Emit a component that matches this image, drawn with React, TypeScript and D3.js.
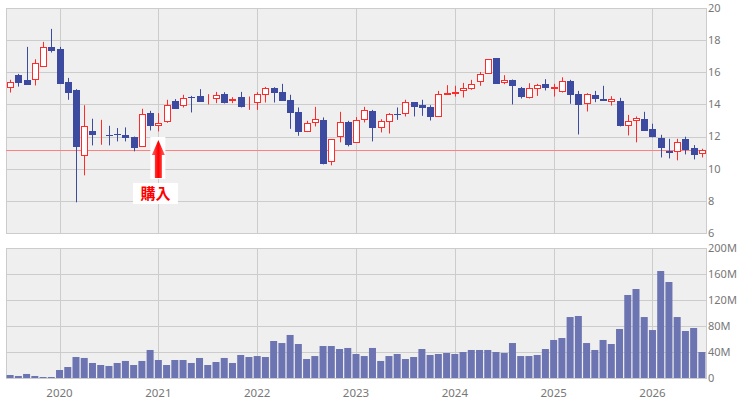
import * as d3 from "d3";

// monthly bars, 2019-07 .. 2026-07
const months: string[] = [];
for (let k = 0; k < 85; k++) {
  const y = 2019 + Math.floor((6 + k) / 12);
  const m = ((6 + k) % 12) + 1;
  months.push(`${y}-${String(m).padStart(2, "0")}`);
}

const open = [
  15.07, 15.84, 15.49, 15.57, 16.42, 17.56, 17.45, 15.4, 14.87, 10.85, 12.36, 12.15, 12.12, 12.17, 12.11, 11.99,
  11.43, 13.48, 12.69, 12.96, 14.22, 13.95, 14.47, 14.51, 14.33, 14.43, 14.64, 14.28, 14.45, 14.14, 14.18, 14.68,
  15.01, 14.78, 14.29, 13.54, 12.34, 12.9, 13.04, 10.48, 12.01, 12.92, 11.66, 13.08, 13.6, 12.57, 13.0, 13.42,
  13.46, 14.14, 13.95, 13.85, 13.27, 14.66, 14.72, 14.89, 15.05, 15.45, 15.94, 16.89, 15.38, 15.53, 15.03, 14.49,
  15.01, 15.28, 15.05, 14.82, 15.47, 14.66, 14.08, 14.58, 14.31, 14.2, 14.22, 12.71, 13.02, 13.11, 12.48, 11.93,
  11.08, 11.1, 11.84, 11.28, 10.99,
];
const high = [
  15.53, 15.9, 17.58, 16.81, 17.89, 18.7, 17.58, 15.65, 14.95, 13.95, 13.11, 13.04, 12.67, 12.53, 12.57, 12.0,
  13.73, 13.6, 13.46, 14.29, 14.33, 14.6, 14.53, 14.95, 14.64, 14.78, 14.76, 14.45, 14.78, 14.49, 14.76, 15.09,
  15.07, 15.28, 14.6, 13.81, 12.98, 13.85, 13.19, 11.85, 13.54, 12.98, 13.21, 13.85, 13.66, 13.08, 13.46, 13.81,
  14.29, 14.15, 14.29, 13.95, 14.84, 15.2, 15.16, 15.34, 15.53, 16.02, 16.82, 16.89, 15.82, 15.55, 15.09, 15.32,
  15.28, 15.57, 15.28, 15.69, 15.53, 14.84, 14.7, 14.84, 15.16, 14.51, 14.41, 13.35, 13.25, 13.54, 12.8, 12.11,
  11.86, 11.86, 11.99, 11.47, 11.24,
];
const low = [
  14.74, 15.11, 15.22, 15.18, 16.36, 17.23, 15.32, 14.29, 7.91, 9.59, 11.45, 11.49, 11.45, 11.7, 11.7, 11.08,
  11.39, 12.38, 12.32, 12.86, 13.73, 13.81, 13.5, 14.18, 14.0, 14.08, 14.06, 14.08, 13.81, 13.66, 13.66, 14.12,
  14.12, 14.28, 12.48, 12.05, 12.28, 12.63, 10.27, 10.21, 11.64, 11.39, 11.65, 12.88, 11.7, 12.26, 12.19, 13.04,
  13.25, 13.25, 13.29, 13.0, 13.26, 14.6, 14.49, 14.43, 14.91, 15.16, 15.93, 15.3, 15.26, 14.0, 14.37, 14.37,
  14.53, 14.87, 14.49, 14.74, 14.04, 12.13, 13.56, 14.14, 14.24, 13.93, 12.63, 12.07, 11.64, 12.38, 11.95, 10.7,
  10.64, 10.52, 10.89, 10.58, 10.7,
];
const close = [
  15.38, 15.42, 15.3, 16.56, 17.56, 17.41, 15.36, 14.8, 11.39, 12.65, 12.13, 12.18, 12.07, 12.13, 11.99, 11.33,
  13.4, 12.69, 12.84, 13.95, 13.75, 14.39, 14.45, 14.22, 14.36, 14.58, 14.14, 14.31, 13.91, 14.18, 14.64, 15.01,
  14.78, 14.29, 13.56, 12.32, 12.84, 13.08, 10.37, 11.84, 12.9, 11.55, 13.02, 13.64, 12.61, 12.96, 13.4, 13.38,
  14.14, 13.93, 13.87, 13.25, 14.64, 14.7, 14.76, 15.01, 15.3, 15.9, 16.81, 15.34, 15.53, 15.18, 14.55, 15.01,
  15.2, 15.11, 15.09, 15.45, 14.68, 14.0, 14.64, 14.37, 14.27, 14.35, 12.75, 12.96, 13.17, 12.44, 12.01, 11.33,
  11.04, 11.66, 11.24, 10.89, 11.16,
];
// volume, millions
const volume = [
  4.6, 3.1, 6.2, 3.1, 1.5, 1.5, 12.3, 16.9, 32.3, 30.8, 23.1, 20.0, 18.5, 23.1, 26.2, 20.0,
  26.2, 43.1, 27.7, 20.0, 27.7, 27.7, 23.1, 30.8, 20.0, 24.6, 30.8, 23.1, 35.4, 32.3, 33.8, 32.3,
  56.9, 53.8, 66.2, 52.3, 29.2, 33.8, 49.2, 49.2, 44.6, 46.2, 36.9, 33.8, 46.2, 26.2, 33.8, 36.9,
  29.2, 32.3, 44.6, 35.4, 36.9, 38.5, 36.9, 40.0, 43.1, 43.1, 43.1, 40.0, 38.5, 53.8, 33.8, 33.8,
  35.4, 44.6, 58.5, 61.5, 93.8, 95.4, 53.8, 43.1, 58.5, 52.3, 75.4, 127.7, 136.9, 93.8, 73.8, 164.6,
  147.7, 93.8, 72.3, 76.9, 40.0,
];

const priceTicks = [6, 8, 10, 12, 14, 16, 18, 20];
const volTicks = [0, 40, 80, 120, 160, 200];
const years = ["2020", "2021", "2022", "2023", "2024", "2025", "2026"];
const buyLine = 11.16;
const buyMonth = "2021-01";
const buyLabel = "購入";

const UP = "#ff2a2a";
const DOWN = "#3c4a9f";
const VOL = "#6c74b1";
const GRID = "#cccccc";
const BG = "#efefef";
const TXT = "#777777";

export default function App() {
  const left = 6;
  const right = 706;
  const pTop = 8;
  const pBot = 233;
  const vTop = 248;
  const vBot = 378;

  const x = d3.scaleBand<string>().domain(months).range([left, right]).padding(0);
  const bw = x.bandwidth();
  const cx = (m: string) => (x(m) as number) + bw / 2;
  const y = d3.scaleLinear().domain([6, 20]).range([pBot, pTop]);
  const yv = d3.scaleLinear().domain([0, 200]).range([vBot, vTop]);

  const px = (v: number) => Math.round(v) + 0.5;
  const font = "'Noto Sans', 'DejaVu Sans', sans-serif";
  const buyX = cx(buyMonth);

  return (
    <svg
      width={740}
      height={401}
      style={{ position: "absolute", left: 0, top: 0, background: "#fff" }}
    >
      <defs>
        <linearGradient id="arrowGrad" x1="0" x2="1" y1="0" y2="0">
          <stop offset="0" stopColor="#ff6a6a" />
          <stop offset="0.5" stopColor="#ff0000" />
          <stop offset="1" stopColor="#ff6a6a" />
        </linearGradient>
      </defs>

      {/* price panel */}
      <rect x={left} y={pTop} width={right - left} height={pBot - pTop} fill={BG} />
      {priceTicks.map((t) => (
        <line key={"pg" + t} x1={left} x2={right} y1={px(y(t))} y2={px(y(t))} stroke={GRID} />
      ))}
      {years.map((yr) => (
        <line key={"px" + yr} x1={px(cx(yr + "-01"))} x2={px(cx(yr + "-01"))} y1={pTop} y2={pBot} stroke={GRID} />
      ))}
      <rect x={left + 0.5} y={pTop + 0.5} width={right - left} height={pBot - pTop} fill="none" stroke={GRID} />
      {priceTicks.map((t) => (
        <text key={"pt" + t} x={right + 2} y={y(t)} dy="0.35em" fontSize={11} fill={TXT} fontFamily={font}>
          {t}
        </text>
      ))}

      <line x1={left} x2={right} y1={px(y(buyLine))} y2={px(y(buyLine))} stroke="#ff8080" />

      {months.map((m, i) => {
        const c = px(cx(m));
        const up = close[i] >= open[i];
        const top = y(Math.max(open[i], close[i]));
        const bot = y(Math.min(open[i], close[i]));
        const h = Math.max(0, Math.round(bot) - Math.round(top));
        return (
          <g key={m}>
            <line x1={c} x2={c} y1={y(high[i])} y2={y(low[i])} stroke={up ? UP : DOWN} />
            {up ? (
              <rect x={c - 3} y={Math.round(top) + 0.5} width={6} height={h} fill="#fff" stroke={UP} />
            ) : (
              <rect x={c - 3.5} y={Math.round(top)} width={7} height={Math.max(1, h + 1)} fill={DOWN} />
            )}
          </g>
        );
      })}

      {/* buy marker */}
      <rect x={buyX - 8} y={137} width={15} height={42} fill="#fff" />
      <path
        d={`M${buyX},140 L${buyX + 6.5},155 L${buyX + 3.5},155 L${buyX + 3.5},178 L${buyX - 3.5},178 L${buyX - 3.5},155 L${buyX - 6.5},155 Z`}
        fill="url(#arrowGrad)"
      />
      <rect x={133} y={183} width={45} height={21} fill="#fff" />
      <text
        x={155.5}
        y={199}
        textAnchor="middle"
        fontSize={15}
        fontWeight="bold"
        fill="#ff0000"
        fontFamily="'Noto Sans CJK JP', sans-serif"
      >
        {buyLabel}
      </text>

      {/* volume panel */}
      <rect x={left} y={vTop} width={right - left} height={vBot - vTop} fill={BG} />
      {volTicks.map((t) => (
        <line key={"vg" + t} x1={left} x2={right} y1={px(yv(t))} y2={px(yv(t))} stroke={GRID} />
      ))}
      {years.map((yr) => (
        <line key={"vx" + yr} x1={px(cx(yr + "-01"))} x2={px(cx(yr + "-01"))} y1={vTop} y2={vBot} stroke={GRID} />
      ))}
      <rect x={left + 0.5} y={vTop + 0.5} width={right - left} height={vBot - vTop} fill="none" stroke={GRID} />
      {months.map((m, i) => (
        <rect
          key={"v" + m}
          x={cx(m) - 3.5}
          y={yv(volume[i])}
          width={7}
          height={vBot - yv(volume[i])}
          fill={VOL}
        />
      ))}
      {volTicks.map((t) => (
        <text key={"vt" + t} x={right + 2} y={yv(t)} dy="0.35em" fontSize={11} fill={TXT} fontFamily={font}>
          {t === 0 ? "0" : t + "M"}
        </text>
      ))}
      {years.map((yr) => (
        <text key={"yl" + yr} x={cx(yr + "-01")} y={397} textAnchor="middle" fontSize={11.5} fill={TXT} fontFamily={font}>
          {yr}
        </text>
      ))}
    </svg>
  );
}
